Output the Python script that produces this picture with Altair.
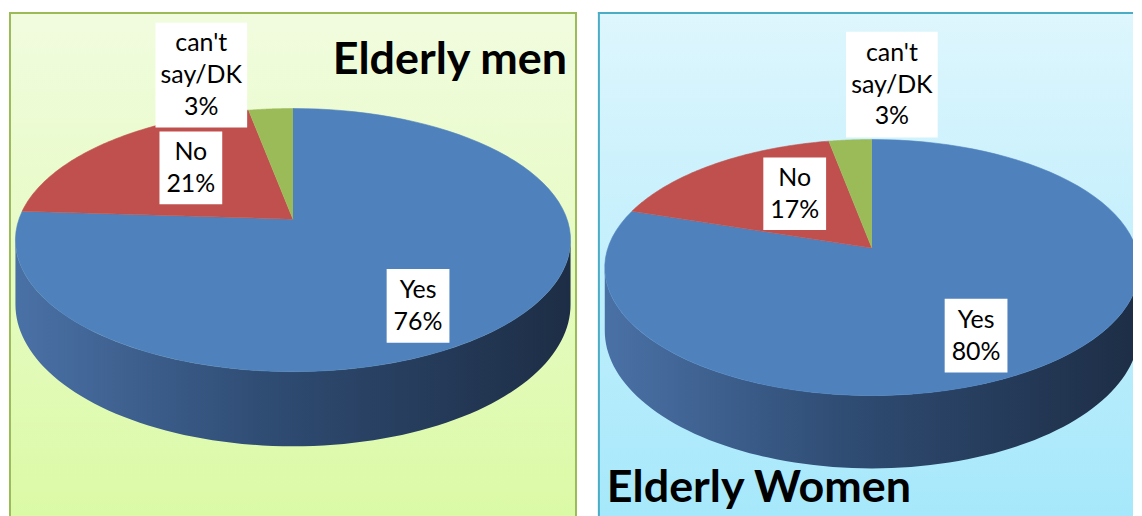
import altair as alt
import pandas as pd

# ---------------- data ----------------
categories = ["Yes", "No", "can't say/DK"]
label_names = ["Yes", "No", "can't\nsay/DK"]
men_values = [76, 21, 3]
women_values = [80, 17, 3]
slice_colors = ["#4f81bd", "#c0504d", "#9bbb59"]

# ---------------- layout (panel-local pixels) ----------------
PANEL_H = 506
N = 90
men_layout = dict(W=570, cx=285, cy=208, rx=275, ry=128.7, k=-0.159, depth=63,
                  bg=["#f1fcdf", "#dbfaa6"], border="#9bbb59", right_border=True,
                  title="Elderly men", tx=560, ty=62, talign="right")
women_layout = dict(W=537, cx=275, cy=237, rx=265, ry=125.5, k=-0.152, depth=62,
                    bg=["#def6fd", "#a6e8fb"], border="#4bacc6", right_border=False,
                    title="Elderly Women", tx=9, ty=492, talign="left")
# label boxes: x0, x1, y0, y1 (panel-local)
men_boxes = [(379, 442, 258, 332), (151, 214, 120, 193), (147, 239, 11, 116)]
women_boxes = [(348, 411, 288, 362), (166, 229, 146, 219), (249, 341, 20, 126)]

side_gradient = alt.LinearGradient(
    gradient="linear", x1=0, x2=1, y1=0, y2=0,
    stops=[alt.GradientStop(offset=0, color="#4a71a6"),
           alt.GradientStop(offset=0.45, color="#2f4c73"),
           alt.GradientStop(offset=1, color="#1d2d45")])

FONT = "Lato"
LINE_H = 32


def panel(values, L, boxes):
    W = L["W"]
    xs = alt.Scale(domain=[0, W], nice=False, zero=False)
    ys = alt.Scale(domain=[0, PANEL_H], nice=False, zero=False, reverse=True)
    col = alt.Scale(domain=categories, range=slice_colors)
    cx, cy, rx, ry, k, depth = L["cx"], L["cy"], L["rx"], L["ry"], L["k"], L["depth"]

    df = pd.DataFrame({
        "category": categories,
        "value": values,
        "name": label_names,
        "order": list(range(len(categories))),
        "bx0": [b[0] for b in boxes],
        "bx1": [b[1] for b in boxes],
        "by0": [b[2] for b in boxes],
        "by1": [b[3] for b in boxes],
    })

    base = (alt.Chart(df)
            .transform_joinaggregate(total="sum(value)")
            .transform_window(cum="sum(value)", sort=[alt.SortField("order")], frame=[None, 0])
            .transform_calculate(a0="2*PI*(datum.cum - datum.value)/datum.total",
                                 a1="2*PI*datum.cum/datum.total"))

    proj_x = f"{cx} + {rx} * datum.px / (1 + ({k}) * datum.py)"
    proj_y = f"{cy} + {ry} * datum.py / (1 + ({k}) * datum.py)"

    one = alt.Data(values=[{"p": 1}])
    bg = (alt.Chart(one)
          .mark_rect(fill=alt.LinearGradient(gradient="linear", x1=0, x2=0, y1=0, y2=1,
                                             stops=[alt.GradientStop(offset=0, color=L["bg"][0]),
                                                    alt.GradientStop(offset=1, color=L["bg"][1])]))
          .encode(x=alt.value(0), x2=alt.value(W), y=alt.value(0), y2=alt.value(PANEL_H)))
    border_left = alt.Chart(one).mark_rule(color=L["border"], strokeWidth=2).encode(
        x=alt.value(1), y=alt.value(0), y2=alt.value(PANEL_H))
    border_top = alt.Chart(one).mark_rule(color=L["border"], strokeWidth=2).encode(
        x=alt.value(0), x2=alt.value(W), y=alt.value(1))
    borders = [border_left, border_top]
    if L["right_border"]:
        borders.append(alt.Chart(one).mark_rule(color=L["border"], strokeWidth=2).encode(
            x=alt.value(W - 1), y=alt.value(0), y2=alt.value(PANEL_H)))

    # visible side wall: from the silhouette angle acos(k) to 2PI - acos(k)
    side = (base
            .transform_calculate(s0=f"max(datum.a0, acos({k}))",
                                 s1=f"min(datum.a1, 2*PI - acos({k}))")
            .transform_filter("datum.s1 > datum.s0")
            .transform_calculate(idx=f"sequence(0, {N + 1})")
            .transform_flatten(["idx"])
            .transform_calculate(th=f"datum.s0 + (datum.s1 - datum.s0) * datum.idx / {N}")
            .transform_calculate(px="sin(datum.th)", py="-cos(datum.th)")
            .transform_calculate(X=proj_x, Y=proj_y)
            .transform_calculate(Yb=f"datum.Y + {depth} / (1 + ({k}) * datum.py)")
            .mark_area(fill=side_gradient, strokeWidth=0, clip=True)
            .encode(x=alt.X("X:Q", scale=xs, axis=None),
                    y=alt.Y("Y:Q", scale=ys, axis=None),
                    y2="Yb:Q",
                    detail="category:N"))

    top = (base
           .transform_calculate(idx=f"sequence(-1, {N + 1})")
           .transform_flatten(["idx"])
           .transform_calculate(th=f"datum.a0 + (datum.a1 - datum.a0) * max(datum.idx, 0) / {N}")
           .transform_calculate(px="datum.idx < 0 ? 0 : sin(datum.th)",
                                py="datum.idx < 0 ? 0 : -cos(datum.th)")
           .transform_calculate(X=proj_x, Y=proj_y)
           .mark_line(filled=True, strokeWidth=0.6, interpolate="linear", clip=True)
           .encode(x=alt.X("X:Q", scale=xs, axis=None),
                   y=alt.Y("Y:Q", scale=ys, axis=None),
                   order="idx:Q",
                   detail="category:N",
                   fill=alt.Fill("category:N", scale=col, legend=None),
                   stroke=alt.Stroke("category:N", scale=col, legend=None)))

    lab = alt.Chart(df).transform_calculate(
        txt="datum.name + '\\n' + datum.value + '%'").transform_calculate(
        nl="length(split(datum.txt, '\\n'))",
        lx="(datum.bx0 + datum.bx1) / 2").transform_calculate(
        ly=f"(datum.by0 + datum.by1) / 2 - (datum.nl - 1) * {LINE_H} / 2")

    boxes_l = lab.mark_rect(fill="white").encode(
        x=alt.X("bx0:Q", scale=xs, axis=None), x2="bx1:Q",
        y=alt.Y("by0:Q", scale=ys, axis=None), y2="by1:Q")

    texts = lab.mark_text(font=FONT, fontSize=25, lineHeight=LINE_H, lineBreak="\n",
                          align="center", baseline="middle", color="#000000").encode(
        x=alt.X("lx:Q", scale=xs, axis=None),
        y=alt.Y("ly:Q", scale=ys, axis=None),
        text="txt:N")

    title = (alt.Chart(alt.Data(values=[{"t": L["title"]}]))
             .mark_text(font=FONT, fontSize=45, fontWeight="bold", align=L["talign"],
                        baseline="alphabetic", color="#000000")
             .encode(x=alt.value(L["tx"]), y=alt.value(L["ty"]), text="t:N"))

    return alt.layer(bg, side, top, boxes_l, texts, title, *borders).properties(width=W, height=PANEL_H)


left = panel(men_values, men_layout, men_boxes)
right = panel(women_values, women_layout, women_boxes)

chart = (alt.hconcat(left, right, spacing=19)
         .resolve_scale(x="independent", y="independent")
         .properties(padding={"left": 0, "top": 2, "right": 0, "bottom": 0}, background="white")
         .configure_view(strokeWidth=0))

chart.save("out.html", embed_options={"renderer": "svg", "actions": False})
